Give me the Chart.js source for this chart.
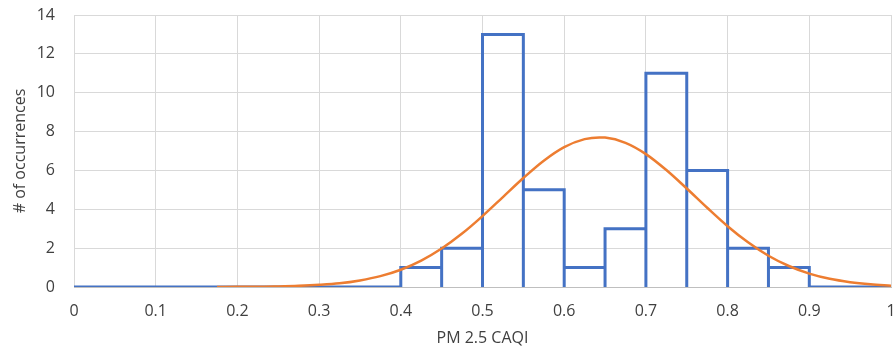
<!DOCTYPE html>
<html>
<head>
<meta charset="utf-8">
<script src="https://cdn.jsdelivr.net/npm/chart.js@4.4.0/dist/chart.umd.min.js"></script>
<style>
  html, body { margin: 0; padding: 0; background: #fff; overflow: hidden; }
  #wrap { width: 893px; height: 348px; }
</style>
</head>
<body>
<div id="wrap"><canvas id="hist"></canvas></div>
<script>
// histogram bins (width 0.05) and counts
var binEdges = [0.40, 0.45, 0.50, 0.55, 0.60, 0.65, 0.70, 0.75, 0.80, 0.85, 0.90];
var binCounts = [1, 2, 13, 5, 1, 3, 11, 6, 2, 1];

// fitted normal curve
var curveX = [0.175, 0.2, 0.225, 0.25, 0.275, 0.3, 0.325, 0.35, 0.375, 0.4, 0.425, 0.45, 0.475,
              0.5, 0.525, 0.55, 0.575, 0.6, 0.625, 0.643, 0.65, 0.675, 0.7, 0.725, 0.75, 0.775,
              0.8, 0.825, 0.85, 0.875, 0.9, 0.925, 0.95, 0.975, 1.0];
var curveY = [0.00, 0.01, 0.01, 0.03, 0.06, 0.11, 0.19, 0.34, 0.56, 0.89, 1.36, 1.98, 2.75,
              3.65, 4.63, 5.61, 6.50, 7.20, 7.61, 7.70, 7.69, 7.42, 6.84, 6.02, 5.07, 4.08,
              3.13, 2.30, 1.61, 1.08, 0.69, 0.42, 0.25, 0.14, 0.07];

var xTicks = [0, 0.1, 0.2, 0.3, 0.4, 0.5, 0.6, 0.7, 0.8, 0.9, 1];

// 1. outline of the histogram: each bar drawn as its own box
var histPts = [{ x: 0, y: 0 }];
for (var i = 0; i < binCounts.length; i++) {
    var a = binEdges[i], b = binEdges[i + 1];
    histPts.push({ x: a, y: 0 });
    histPts.push({ x: a, y: binCounts[i] });
    histPts.push({ x: b, y: binCounts[i] });
    histPts.push({ x: b, y: 0 });
}
histPts.push({ x: 1, y: 0 });

var curvePts = curveX.map(function(x, i) { return { x: x, y: curveY[i] }; });

var tickFont = { size: 16, family: "Open Sans" };
var gridColor = "#d9d9d9";

new Chart(document.getElementById("hist").getContext("2d"), {
    type: "scatter",
    data: {
        datasets: [{
            label: "Normal",
            data: curvePts,
            showLine: true,
            borderColor: "#ED7D31",
            borderWidth: 2.5,
            pointRadius: 0,
            tension: 0.4,
            cubicInterpolationMode: "monotone"
        }, {
            label: "Count",
            data: histPts,
            showLine: true,
            borderColor: "#4472C4",
            borderWidth: 3,
            pointRadius: 0,
            tension: 0
        }]
    },
    options: {
        responsive: true,
        maintainAspectRatio: false,
        animation: false,
        layout: { padding: { left: 0, top: 0, right: 2, bottom: 0 } },
        plugins: {
            legend: { display: false },
            tooltip: { enabled: false }
        },
        scales: {
            x: {
                type: "linear",
                min: 0,
                max: 1,
                afterBuildTicks: function(axis) {
                    axis.ticks = xTicks.map(function(v) { return { value: v }; });
                },
                afterFit: function(axis) {
                    axis.height = 61;
                    axis.paddingLeft = 0;
                    axis.paddingRight = 0;
                },
                grid: { color: gridColor, lineWidth: 1, drawTicks: false },
                border: { color: "#bfbfbf", width: 1 },
                ticks: {
                    color: "#404040", font: tickFont, padding: 15, maxRotation: 0,
                    callback: function(v) { return String(v); }
                },
                title: { display: true, text: "PM 2.5 CAQI", color: "#404040", font: tickFont, padding: { top: 0, bottom: 0 } }
            },
            y: {
                min: 0,
                max: 14,
                afterFit: function(axis) {
                    axis.width = 74;
                    axis.paddingTop = 15;
                    axis.paddingBottom = 0;
                },
                ticks: { stepSize: 2, color: "#404040", font: tickFont, padding: 19 },
                grid: { color: gridColor, lineWidth: 1, drawTicks: false },
                border: { display: false },
                title: { display: true, text: "# of occurrences", color: "#404040", font: tickFont, padding: { top: 11, bottom: 0 } }
            }
        }
    }
});
</script>
</body>
</html>
